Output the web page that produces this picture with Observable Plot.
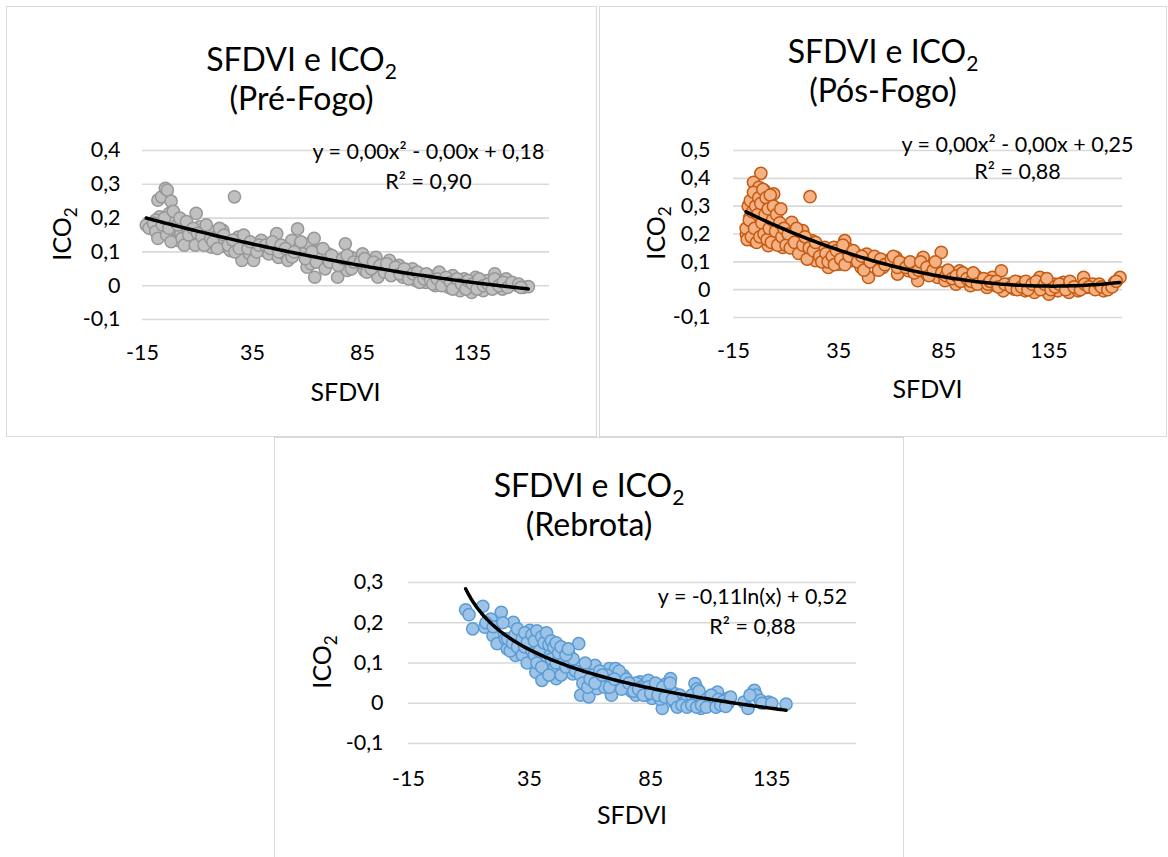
<!DOCTYPE html>
<html><head><meta charset="utf-8">
<script src="https://cdn.jsdelivr.net/npm/d3@7"></script>
<script src="https://cdn.jsdelivr.net/npm/@observablehq/plot@0.6"></script>
<style>
body{margin:0;background:#fff;}
#root{position:relative;width:1168px;height:857px;overflow:hidden;background:#fff;font-family:Lato,sans-serif;color:#000;}
.box{position:absolute;border:1px solid #d9d9d9;box-sizing:border-box;background:#fff;}
.title{position:absolute;text-align:center;font-size:32px;line-height:39px;white-space:nowrap;}
.title sub{font-size:21px;vertical-align:-8px;line-height:0;}
.xlab{position:absolute;font-size:25px;transform:translate(-50%,-50%);white-space:nowrap;}
.ylab{position:absolute;font-size:25px;transform:translate(-50%,-50%) rotate(-90deg);white-space:nowrap;}
.ylab sub{font-size:17px;vertical-align:-6px;line-height:0;}
.chart{position:absolute;}
</style></head>
<body><div id="root"></div>
<script>
// ---------- data ----------
const xTicks = [-15, 35, 85, 135];
const yTicksPre = [-0.1, 0, 0.1, 0.2, 0.3, 0.4];
const yTicksPos = [-0.1, 0, 0.1, 0.2, 0.3, 0.4, 0.5];
const yTicksReb = [-0.1, 0, 0.1, 0.2, 0.3];
const panelTitles = ["(Pré-Fogo)", "(Pós-Fogo)", "(Rebrota)"];
const equations = ["y = 0,00x² - 0,00x + 0,18", "y = 0,00x² - 0,00x + 0,25", "y = -0,11ln(x) + 0,52"];
const rSquared = ["R² = 0,90", "R² = 0,88", "R² = 0,88"];

// SFDVI, ICO2 — Pré-Fogo
const preFogo = [
[-13.3,0.179],[-8,0.253],[-6.3,0.263],[-4.6,0.288],[-3.7,0.283],[-2,0.25],[-7.2,0.204],[-9,0.194],[-7.2,0.154],[-5.4,0.164],
[-2.8,0.214],[-1,0.194],[0,0.164],[0.7,0.134],[2.4,0.154],[4.1,0.184],[5.9,0.164],[7.6,0.144],[9.4,0.214],[11,0.174],
[11,0.134],[13.7,0.154],[15.5,0.164],[16.3,0.114],[18,0.124],[19.8,0.154],[21.5,0.164],[22.4,0.134],[23.3,0.114],[26.8,0.263],
[25,0.104],[28.5,0.144],[30.2,0.124],[30.2,0.075],[32,0.134],[33.7,0.094],[35.5,0.075],[36.3,0.114],[39,0.134],[40.7,0.104],
[42.4,0.094],[45,0.114],[46,0.154],[46.8,0.084],[49.4,0.094],[51.1,0.075],[52.9,0.134],[55.5,0.168],[56.3,0.114],[58,0.094],
[59.8,0.055],[60.7,0.124],[61.6,0.065],[63.3,0.025],[65,0.104],[66.8,0.084],[69.4,0.094],[72,0.075],[73.7,0.025],[75.5,0.065],
[77.2,0.124],[78.1,0.045],[79.8,0.084],[82.4,0.065],[85,0.094],[85.9,0.045],[88.5,0.065],[91.1,0.084],[92,0.025],[94.6,0.055],
[97.2,0.075],[99.8,0.045],[101.6,0.06],[103.3,0.025],[105,0.04],[107.7,0.05],[109.4,0.015],[112,0.025],[113.8,0.01],[115.5,0.03],
[118.1,0],[119.9,0.04],[122.5,0.015],[124.2,-0.005],[126,0.03],[127.7,0.01],[129.4,-0.015],[131.2,0.02],[132.9,0],[134.6,-0.02],
[136.4,0.025],[138.1,0.005],[139.9,-0.015],[141.6,0.015],[143.4,-0.005],[145.1,0.035],[146.8,0.005],[148.6,-0.01],[150.3,0.02],[152.9,0.005],
[155.5,0],[158.1,-0.005],[160.4,-0.003],
[-12,0.17],[-10,0.185],[-9,0.16],[-8,0.14],[-6,0.18],[-5,0.2],[-4,0.15],[-3,0.17],[-2,0.13],[-1,0.22],
[1,0.18],[2,0.2],[3,0.14],[4,0.12],[5,0.19],[6,0.15],[8,0.17],[9,0.12],[10,0.155],[12,0.145],
[13,0.12],[14,0.18],[16,0.14],[17,0.13],[19,0.11],[20,0.17],[22,0.15],[24,0.12],[26,0.135],[27,0.1],
[29,0.11],[31,0.15],[33,0.11],[34,0.13],[37,0.1],[38,0.12],[41,0.12],[43,0.11],[44,0.13],[47,0.1],
[48,0.12],[50,0.11],[53,0.085],[54,0.1],[57,0.13],[59,0.08],[62,0.1],[63,0.14],[64,0.07],[67,0.11],
[68,0.05],[70,0.07],[71,0.09],[74,0.06],[76,0.08],[78,0.09],[80,0.05],[81,0.07],[84,0.07],[86,0.08],
[87,0.04],[89,0.05],[90,0.07],[93,0.06],[95,0.04],[96,0.065],[98,0.03],[100,0.055],[102,0.035],[104,0.05],
[106,0.02],[108,0.035],[110,0.04],[111,0.01],[113,0.02],[114,0.035],[116,0.015],[117,0.005],[119,0.02],[121,0],
[123,0.025],[125,0.01],[126,-0.01],[128,0.02],[130,0.005],[132,-0.01],[133,0.015],[135,0.005],[137,-0.01],[138,0.02],
[140,0],[142,0.005],[144,-0.01],[145,0.02],[147,0],[149,0.01],[151,-0.005],[153,0.01],[156,0.005],[157,-0.005]
];

// SFDVI, ICO2 — Pós-Fogo
const posFogo = [
[-2,0.418],[21.4,0.334],[-5.5,0.386],[-2.9,0.368],[-0.3,0.356],[4.1,0.344],[-3.7,0.332],[1.5,0.32],[-6.3,0.308],[-1.1,0.296],
[3.2,0.284],[-7.2,0.26],[-2.9,0.248],[1.5,0.236],[4.9,0.26],[-8.9,0.2],[-5.5,0.176],[-2,0.212],[1.5,0.158],[4.9,0.176],
[6.7,0.2],[8.4,0.152],[10.1,0.176],[12.7,0.242],[13.6,0.2],[16.2,0.152],[17.9,0.212],[19.7,0.128],[22.3,0.176],[24,0.104],
[25.7,0.14],[28.4,0.152],[30.1,0.08],[31,0.116],[32.7,0.152],[35.3,0.092],[37.9,0.176],[39.6,0.146],[41.4,0.104],[43.1,0.128],
[45.7,0.08],[48.3,0.128],[49.2,0.044],[51.8,0.116],[53.5,0.092],[56.1,0.08],[58.7,0.104],[62.2,0.116],[63,0.056],[65.6,0.092],
[68.2,0.068],[70.8,0.092],[72.6,0.032],[75.2,0.116],[76.9,0.056],[79.5,0.08],[82.1,0.044],[83.8,0.134],[85.6,0.032],[88.2,0.056],
[90.8,0.02],[92.5,0.068],[95.1,0.038],[97.7,0.014],[100.3,0.05],[102.9,0.026],[105.5,0.008],[108.1,0.044],[109.8,0.014],[112.4,0.068],
[113.3,-0.004],[115.9,0.02],[118.5,0.002],[121.1,0.026],[123.7,-0.004],[126.3,0.014],[128.1,-0.01],[130.7,0.044],[132.4,0.008],[135,-0.016],
[137.6,0.02],[139.3,-0.004],[141.9,0.026],[144.5,-0.01],[146.3,0.014],[148.9,-0.004],[151.5,0.044],[153.2,0.008],[155.8,0.02],[158.4,0.008],
[161,-0.004],[166.2,0.026],[168.8,0.044],
[-9,0.22],[-8.5,0.18],[-8,0.3],[-7.5,0.25],[-7,0.32],[-6.5,0.19],[-6,0.28],[-5.5,0.35],[-5,0.22],[-4.5,0.3],
[-4,0.17],[-3.5,0.27],[-3,0.33],[-2.5,0.19],[-2,0.31],[-1.5,0.24],[-1,0.36],[-0.5,0.2],[0,0.27],[0.5,0.33],
[1,0.18],[1.5,0.29],[2,0.22],[2.5,0.34],[3,0.17],[3.5,0.25],[4,0.3],[5,0.21],[5.5,0.27],[6,0.16],
[7,0.24],[7.5,0.29],[8,0.19],[9,0.22],[10,0.16],[11,0.2],[12,0.15],[14,0.17],[15,0.22],[16,0.13],
[18,0.16],[19,0.19],[20,0.11],[21,0.15],[23,0.14],[24,0.17],[26,0.12],[27,0.1],[29,0.13],[30,0.1],
[32,0.12],[33,0.09],[34,0.14],[36,0.11],[37,0.16],[38,0.09],[40,0.12],[42,0.14],[44,0.1],[46,0.12],
[47,0.07],[50,0.1],[52,0.12],[54,0.07],[55,0.11],[57,0.09],[60,0.11],[61,0.12],[63,0.08],[64,0.1],
[67,0.08],[69,0.1],[71,0.06],[73,0.07],[74,0.1],[77,0.08],[78,0.05],[80,0.07],[81,0.1],[84,0.06],
[86,0.05],[87,0.07],[89,0.04],[91,0.05],[93,0.03],[94,0.06],[96,0.04],[98,0.03],[99,0.06],[101,0.02],
[104,0.04],[106,0.02],[107,0.03],[110,0.03],[111,0.01],[114,0.02],[117,0.01],[119,0.03],[120,0],[122,0.01],
[124,0.03],[125,0],[127,0.02],[129,0.03],[131,0],[133,0.02],[134,0.04],[136,0],[138,0.01],[140,0.02],
[143,0],[145,0.03],[147,0.01],[150,0],[152,0.02],[154,0.01],[157,0],[159,0.02],[160,0.01],[163,0],
[165,0.01],[167,0.03]
];

// SFDVI, ICO2 — Rebrota
const rebrota = [
[8.6,0.232],[11.5,0.185],[15.7,0.241],[16.5,0.189],[19,0.209],[19.9,0.168],[21.6,0.148],[23.3,0.226],[25,0.16],[25.8,0.135],
[28.3,0.201],[29.2,0.168],[29.2,0.119],[31.7,0.135],[33.4,0.16],[35.1,0.181],[35.9,0.102],[37.6,0.077],[38.4,0.143],[39.3,0.168],
[40.1,0.057],[41,0.119],[42.6,0.16],[44.3,0.135],[45.2,0.086],[46,0.061],[47.7,0.119],[48.5,0.094],[51.1,0.127],[51.9,0.106],
[52.8,0.073],[55.3,0.148],[56.1,0.02],[57.8,0.086],[59.5,0.016],[60.3,0.053],[62,0.094],[62.9,0.036],[65.4,0.061],[67.9,0.086],
[68.8,0.02],[70.5,0.086],[72.1,0.049],[73.8,0.069],[76.4,0.036],[78.9,0.02],[80.6,0.053],[82.3,0.045],[84,0.057],[85.6,0.012],
[88.2,0.028],[89.8,-0.013],[91.5,0.049],[93.2,0.061],[94.9,0.024],[96.6,0.003],[99.1,-0.005],[101.6,0.003],[103.3,0.049],[104.2,0.036],
[105.8,-0.013],[107.5,0.012],[109.2,-0.005],[110.9,0.003],[112.6,0.028],[114.3,-0.001],[116.8,0.012],[123.5,0.003],[125.2,-0.013],[127.8,0.032],
[128.6,0.02],[130.3,0.007],[133.7,0.003],[140.9,-0.002],
[10,0.22],[17,0.2],[20,0.19],[24,0.2],[26,0.16],
[27,0.13],[28,0.15],[30,0.14],[31,0.17],[32,0.12],[33,0.14],[34,0.1],[35,0.16],[36,0.13],[37,0.12],
[38,0.1],[39,0.15],[40,0.09],[41,0.14],[42,0.13],[43,0.07],[44,0.11],[46,0.1],[47,0.13],[48,0.07],
[49,0.11],[50,0.09],[52,0.1],[53,0.11],[54,0.08],[56,0.07],[57,0.05],[58,0.1],[59,0.04],[61,0.07],
[63,0.06],[64,0.08],[66,0.04],[67,0.07],[69,0.05],[71,0.06],[72,0.08],[74,0.04],[75,0.06],[77,0.03],
[79,0.05],[81,0.04],[83,0.02],[84,0.04],[86,0.03],[87,0.05],[89,0.01],[90,0.04],[92,0.02],[93,0.05],
[95,0],[97,0.02],[98,0],[100,0.01],[102,0.02],[103,0],[105,0.03],[106,0],[108,0.01],[110,0.02],
[111,-0.005],[113,0.01],[115,0.005],[117,0],[118,0.015],[126,0.02],[131,0],[135,0],
[29,0.17],[30,0.185],[32,0.16],[33,0.175],[34,0.15],[36,0.17],[37,0.155],[38,0.18],[39,0.13],[40,0.165],
[41,0.15],[42,0.175],[43,0.145],[44,0.155],[45,0.14],[46,0.15],[47,0.125],[48,0.14],[50,0.12],[51,0.135],
[60,0.06],[62,0.05],[65,0.07],[68,0.04],[70,0.06],[73,0.035],[76,0.05],[78,0.03],[80,0.035],[82,0.02],
[85,0.025],[88,0.02],[91,0.015],[94,0.01],
[96,-0.01],[98,-0.005],[100,-0.01],[102,-0.005],[104,-0.01],[106,-0.005],[108,-0.01],[112,-0.01],[114,-0.005],[116,-0.008]
];

// ---------- trendlines fitted (least squares) from the points ----------
function quadFit(pts) {
  const S = [0,0,0,0,0], T = [0,0,0];
  for (const [x, y] of pts) { let p = 1; for (let k = 0; k < 5; k++) { S[k] += p; if (k < 3) T[k] += p * y; p *= x; } }
  const M = [[S[0],S[1],S[2],T[0]],[S[1],S[2],S[3],T[1]],[S[2],S[3],S[4],T[2]]];
  for (let i = 0; i < 3; i++) {
    for (let j = i + 1; j < 3; j++) { const f = M[j][i] / M[i][i]; for (let k = i; k < 4; k++) M[j][k] -= f * M[i][k]; }
  }
  const c = [0,0,0];
  for (let i = 2; i >= 0; i--) { let s = M[i][3]; for (let k = i + 1; k < 3; k++) s -= M[i][k] * c[k]; c[i] = s / M[i][i]; }
  return x => c[0] + c[1] * x + c[2] * x * x;
}
function logFit(pts) {
  const lx = pts.map(d => Math.log(d[0])), ys = pts.map(d => d[1]);
  const mx = d3.mean(lx), my = d3.mean(ys);
  let num = 0, den = 0;
  for (let i = 0; i < lx.length; i++) { num += (lx[i] - mx) * (ys[i] - my); den += (lx[i] - mx) ** 2; }
  const a = num / den, b = my - a * mx;
  return x => a * Math.log(x) + b;
}
function curve(pts, f) {
  const [x0, x1] = d3.extent(pts, d => d[0]);
  const n = 120;
  return d3.range(n + 1).map(i => { const x = x0 + (x1 - x0) * i / n; return [x, f(x)]; });
}
const fmtY = d => d === 0 ? "0" : d.toFixed(1).replace(".", ",");

const root = document.getElementById("root");
function addEl(cls, html, style) {
  const el = document.createElement("div");
  el.className = cls; el.innerHTML = html; Object.assign(el.style, style); root.appendChild(el); return el;
}

const panels = [
  {box:[6,6,591,431], titleTop:39, svg:[7,120,588,300], m:[30,46,101,135], yTicks:yTicksPre, data:preFogo, fit:quadFit,
   fill:"#c0c0c0", stroke:"#979797", xlab:[345.5,391], ylab:[61,234], eq:[-121,2,32], tickPad:22, xPad:25},
  {box:[599,6,568,431], titleTop:31, svg:[600,120,565,300], m:[30,43,103,133], yTicks:yTicksPos, data:posFogo, fit:quadFit,
   fill:"#f4b183", stroke:"#c55a11", xlab:[927.5,388], ylab:[655,233], eq:[-105,-5,22], tickPad:23, xPad:25},
  {box:[274,437,630,440], titleTop:465, svg:[275,552,627,290], m:[30,46,99,133], yTicks:yTicksReb, data:rebrota, fit:logFit,
   fill:"#9dc3e6", stroke:"#5b9bd5", xlab:[632,814], ylab:[321,662], eq:[-104,15,45], tickPad:25, xPad:27}
];

panels.forEach((p, i) => {
  addEl("box", "", {left:p.box[0]+"px", top:p.box[1]+"px", width:p.box[2]+"px", height:p.box[3]+"px"});
  addEl("title", "SFDVI e ICO<sub>2</sub><br>" + panelTitles[i],
    {left:p.box[0]+"px", width:p.box[2]+"px", top:p.titleTop+"px"});
  const f = p.fit(p.data);
  const line = curve(p.data, f);
  const yd = [p.yTicks[0], p.yTicks[p.yTicks.length - 1]];
  const chart = Plot.plot({
    width: p.svg[2], height: p.svg[3],
    marginTop: p.m[0], marginRight: p.m[1], marginBottom: p.m[2], marginLeft: p.m[3],
    style: {fontFamily: "Lato, sans-serif", fontSize: "21px", color: "#000", background: "transparent", overflow: "visible"},
    x: {domain: [-15, 170]},
    y: {domain: yd},
    marks: [
      Plot.gridY(p.yTicks, {stroke: "#d9d9d9", strokeOpacity: 1, strokeWidth: 1.6}),
      Plot.axisY(p.yTicks, {tickSize: 0, tickPadding: p.tickPad, tickFormat: fmtY, label: null, fontSize: 21.5}),
      Plot.axisX(xTicks, {tickSize: 0, tickPadding: p.xPad, tickFormat: d => String(d), label: null, fontSize: 21.5}),
      Plot.dot(p.data, {x: d => d[0], y: d => d[1], r: 6.1, fill: p.fill, fillOpacity: 1, stroke: p.stroke, strokeWidth: 1.5}),
      Plot.line(line, {x: d => d[0], y: d => d[1], stroke: "#000", strokeWidth: 3.5}),
      Plot.text([equations[i]], {frameAnchor: "top-right", dx: p.eq[0], dy: p.eq[1], textAnchor: "middle", lineAnchor: "middle", fontSize: 21.5}),
      Plot.text([rSquared[i]], {frameAnchor: "top-right", dx: p.eq[0], dy: p.eq[2], textAnchor: "middle", lineAnchor: "middle", fontSize: 21.5})
    ]
  });
  chart.classList.add("chart");
  chart.style.left = p.svg[0] + "px"; chart.style.top = p.svg[1] + "px";
  root.appendChild(chart);
  addEl("xlab", "SFDVI", {left:p.xlab[0]+"px", top:p.xlab[1]+"px"});
  addEl("ylab", "ICO<sub>2</sub>", {left:p.ylab[0]+"px", top:p.ylab[1]+"px"});
});
</script>
</body></html>
